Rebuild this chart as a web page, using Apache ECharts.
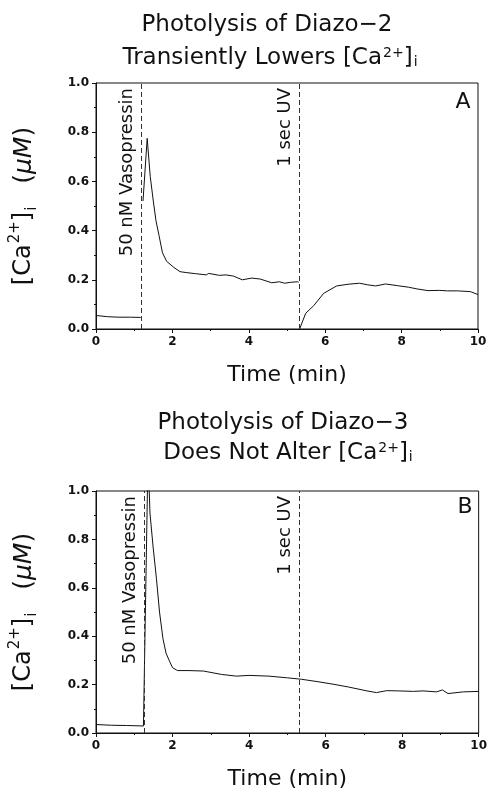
<!DOCTYPE html>
<html><head><meta charset="utf-8">
<script src="https://cdn.jsdelivr.net/npm/echarts@6/dist/echarts.min.js"></script>
<style>html,body{margin:0;padding:0;background:#fff;}#c{width:490px;height:791px;}</style>
</head><body><div id="c"></div>
<script>
// Panel A: Diazo-2
const timeA = [0, 0.3, 0.6, 0.9, 1.17, 1.2, 1.23, 1.34, 1.42, 1.5, 1.57, 1.65, 1.74, 1.85, 2.04, 2.2, 2.38, 2.6, 2.89, 2.95, 3.23, 3.4, 3.6, 3.83, 4.08, 4.3, 4.6, 4.8, 4.94, 5.1, 5.28, 5.31, 5.32, 5.33, 5.49, 5.7, 5.96, 6.3, 6.6, 6.9, 7.1, 7.32, 7.58, 7.9, 8.18, 8.4, 8.69, 9.0, 9.2, 9.46, 9.8, 10];
const valA  = [0.055, 0.050, 0.048, 0.048, 0.047, null, 0.52, 0.775, 0.62, 0.52, 0.44, 0.38, 0.31, 0.275, 0.25, 0.233, 0.229, 0.225, 0.22, 0.226, 0.218, 0.22, 0.215, 0.20, 0.207, 0.203, 0.188, 0.192, 0.186, 0.19, 0.192, 0.19, null, 0.0, 0.064, 0.095, 0.145, 0.175, 0.182, 0.186, 0.18, 0.175, 0.183, 0.176, 0.17, 0.163, 0.156, 0.157, 0.155, 0.155, 0.152, 0.14];
// Panel B: Diazo-3
const timeB = [0, 0.4, 0.8, 1.24, 1.28, 1.36, 1.41, 1.49, 1.58, 1.66, 1.75, 1.83, 1.92, 2.0, 2.13, 2.43, 2.81, 3.28, 3.67, 4.0, 4.52, 5.0, 5.37, 5.8, 6.22, 6.6, 7.08, 7.33, 7.6, 7.9, 8.3, 8.55, 8.9, 9.05, 9.2, 9.6, 10];
const valB  = [0.035, 0.032, 0.031, 0.029, 0.03, 1.15, 0.909, 0.773, 0.637, 0.50, 0.39, 0.33, 0.297, 0.27, 0.258, 0.258, 0.256, 0.242, 0.235, 0.238, 0.235, 0.228, 0.222, 0.212, 0.201, 0.19, 0.174, 0.167, 0.175, 0.174, 0.172, 0.174, 0.17, 0.178, 0.163, 0.17, 0.172];
const eventLabels = ['50 nM Vasopressin', '1 sec UV'];
const eventTimesA = [1.18, 5.32];
const eventTimesB = [1.25, 5.32];
const xTicks = [0, 2, 4, 6, 8, 10];
const yTicks = [0.0, 0.2, 0.4, 0.6, 0.8, 1.0];
const titleA = ['Photolysis of Diazo\u22122', 'Transiently Lowers [Ca{sup|2+}]{sub|i}'];
const titleB = ['Photolysis of Diazo\u22123', 'Does Not Alter [Ca{sup|2+}]{sub|i}'];
const yName = '[Ca{ysup|2+}]{ysub|i}   {par|(}{mu|\u03bcM}{par|)}';
const xName = 'Time (min)';
const panelLetters = ['A', 'B'];

const FF = 'DejaVu Sans';
const pairs = (t, v) => t.map((x, i) => [x, v[i] == null ? '-' : v[i]]);
const richT = {
  sup: {fontSize: 14, fontFamily: FF, verticalAlign: 'top', lineHeight: 14, padding: [0, 0, 0, 1]},
  sub: {fontSize: 14, fontFamily: FF, verticalAlign: 'bottom', lineHeight: 12, padding: [0, 0, 0, 1]},
  ysup: {fontSize: 15, fontFamily: FF, verticalAlign: 'top', lineHeight: 15, padding: [0, 0, 0, 1]},
  ysub: {fontSize: 15, fontFamily: FF, verticalAlign: 'bottom', lineHeight: 13, padding: [0, 0, 0, 1]},
  par: {fontSize: 25, fontFamily: FF},
  mu: {fontSize: 25, fontFamily: FF, fontStyle: 'italic'}
};

function xAxis(gi) {
  return {
    gridIndex: gi, type: 'value', min: 0, max: 10, interval: 2,
    name: xName, nameLocation: 'middle', nameGap: 35,
    nameTextStyle: {fontSize: 22, fontFamily: FF, color: '#111'},
    axisLine: {lineStyle: {color: '#111', width: 1}},
    axisTick: {show: true, inside: false, length: 4, lineStyle: {color: '#111'}},
    minorTick: {show: true, splitNumber: 2, length: 2, lineStyle: {color: '#111'}},
    splitLine: {show: false},
    axisLabel: {fontSize: 12, fontWeight: 'bold', fontFamily: FF, color: '#111', margin: 7,
      formatter: v => xTicks.includes(v) ? String(v) : ''}
  };
}
function yAxis(gi) {
  return {
    gridIndex: gi, type: 'value', min: 0, max: 1, interval: 0.2,
    name: yName, nameLocation: 'middle', nameGap: 56, nameRotate: 90,
    nameTextStyle: {fontSize: 24, fontFamily: FF, color: '#111', lineHeight: 32, rich: richT},
    axisLine: {lineStyle: {color: '#111', width: 1}},
    axisTick: {show: true, inside: false, length: 4, lineStyle: {color: '#111'}},
    minorTick: {show: true, splitNumber: 2, length: 2, lineStyle: {color: '#111'}},
    splitLine: {show: false},
    axisLabel: {fontSize: 12, fontWeight: 'bold', fontFamily: FF, color: '#111', margin: 7,
      formatter: v => yTicks.map(t => t.toFixed(1)).includes(v.toFixed(1)) ? v.toFixed(1) : ''}
  };
}
function trace(gi, t, v, events) {
  return {
    type: 'line', xAxisIndex: gi, yAxisIndex: gi, data: pairs(t, v),
    showSymbol: false, symbol: 'none', connectNulls: false, clip: true,
    lineStyle: {color: '#111', width: 1}, animation: false,
    markLine: {
      silent: true, symbol: 'none', animation: false,
      lineStyle: {color: '#333', width: 1, type: [5, 3]},
      label: {show: true, position: 'insideEndTop', distance: 5, fontSize: 18, fontFamily: FF, color: '#111'},
      data: events.map((x, i) => ({xAxis: x, label: {formatter: eventLabels[i]}}))
    }
  };
}
function titleText(lines, cx, y1, y2) {
  return lines.map((s, i) => ({
    type: 'text', x: cx[i], y: i === 0 ? y1 : y2,
    style: {text: s, fontSize: 23, fontFamily: FF, fill: '#111', align: 'center', verticalAlign: 'middle', rich: richT}
  }));
}

const chart = echarts.init(document.getElementById('c'), null, {renderer: 'canvas'});
chart.setOption({
  animation: false,
  backgroundColor: '#fff',
  textStyle: {fontFamily: FF},
  grid: [
    {left: 87, right: 12, top: 83, height: 246, show: true, borderColor: '#111', borderWidth: 1},
    {left: 90, right: 9, top: 491, height: 245, show: true, borderColor: '#111', borderWidth: 1}
  ],
  xAxis: [xAxis(0), xAxis(1)],
  yAxis: [yAxis(0), yAxis(1)],
  series: [trace(0, timeA, valA, eventTimesA), trace(1, timeB, valB, eventTimesB)],
  graphic: [
    ...titleText(titleA, [267, 270], 25, 58),
    ...titleText(titleB, [283, 288], 423, 453),
    {type: 'text', x: 463, y: 102, style: {text: panelLetters[0], fontSize: 22, fontFamily: FF, fill: '#111', align: 'center', verticalAlign: 'middle'}},
    {type: 'text', x: 465, y: 507, style: {text: panelLetters[1], fontSize: 22, fontFamily: FF, fill: '#111', align: 'center', verticalAlign: 'middle'}}
  ]
});
</script></body></html>
